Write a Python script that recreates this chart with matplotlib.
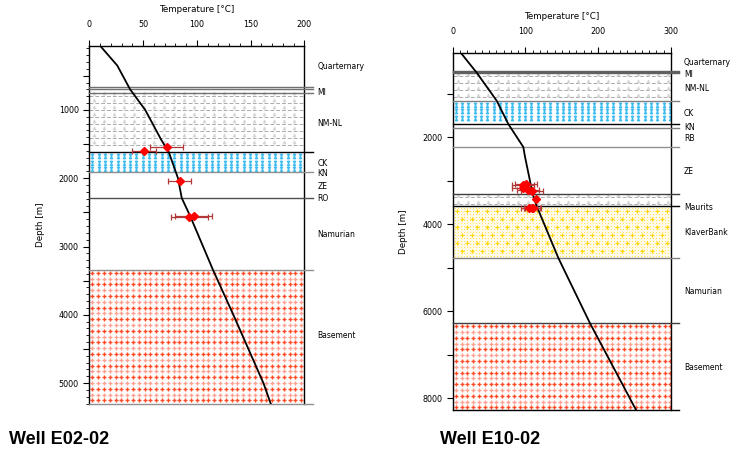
import numpy as np
import matplotlib
matplotlib.use('Agg')
import matplotlib.pyplot as plt
from matplotlib.ticker import MultipleLocator, FuncFormatter

# ---- Well E02-02 ----
curve02_depth = [60, 350, 700, 1000, 1440, 1620, 1910, 2000, 2290, 2560, 3340, 4000, 5000, 5310]
curve02_temp = [10, 26, 38, 52, 67, 74, 80.5, 82.5, 86, 94, 115, 134, 162, 169]
meas02_temp = [72, 51, 84, 93, 97]
meas02_depth = [1540, 1600, 2040, 2570, 2555]
meas02_err = [15.5, 11, 11, 17, 17]
names02 = ['Quarternary', 'MI', 'NM-NL', 'CK', 'KN', 'ZE', 'RO', 'Namurian', 'Basement']
label_depth02 = [368, 740, 1194, 1780, 1927, 2115, 2295, 2820, 4310]
bounds02 = [660, 700, 750, 1620, 1910, 2290, 3340, 5310]
bcol02 = ['#707070', '#707070', '#707070', 'k', '#909090', '#505050', '#909090', '#909090']
fills02 = [('nmnl', 750, 1620), ('ck', 1620, 1910), ('base', 3340, 5310)]

# ---- Well E10-02 ----
curve10_depth = [55, 515, 1160, 1694, 2223, 2450, 3310, 3580, 4768, 5280, 6276, 8270]
curve10_temp = [11, 33, 60.5, 76.4, 97, 99.4, 110, 115.4, 145, 159.8, 188.7, 252]
meas10_temp = [97, 100.7, 97, 103.5, 108.6, 114, 108.6, 105.3, 111]
meas10_depth = [3097, 3074, 3172, 3211, 3234, 3418, 3632, 3632, 3625]
meas10_err = [15, 15, 15, 15, 15, 0, 11, 11, 11]
names10 = ['Quarternary', 'MI', 'NM-NL', 'CK', 'KN', 'RB', 'ZE', 'Maurits', 'KlaverBank', 'Namurian', 'Basement']
label_depth10 = [285, 545, 867, 1448, 1770, 2023, 2791, 3609, 4193, 5549, 7297]
bounds10 = [475, 500, 525, 1160, 1694, 1790, 2223, 3310, 3580, 4768, 6276, 8270]
bcol10 = ['#606060', '#606060', '#606060', '#808080', 'k', '#808080', '#909090', '#404040', 'k', '#808080', '#404040', 'k']
fills10 = [('nmnl', 525, 1160), ('ck', 1160, 1694), ('nmnl', 3310, 3580),
           ('klaver', 3580, 4768), ('base', 6276, 8270)]

W, H = 733, 454
fig = plt.figure(figsize=(W / 100, H / 100), dpi=100)


def pattern(ax, kind, top, bot, xmax, ppx, ppy):
    # ppx / ppy = data units per pixel
    if kind == 'nmnl':
        ys = np.arange(top + 3 * ppy, bot - ppy, 7 * ppy)
        for y in ys:
            ax.plot([0, xmax], [y, y], color='#ababab', lw=0.7, ls=(0, (4, 2)), zorder=1)
        xs = np.arange(5 * ppx, xmax, 10 * ppx)
        X, Y = np.meshgrid(xs, ys - 2.5 * ppy)
        ax.plot(X.ravel(), Y.ravel(), ls='none', marker='$\\perp$', ms=1.8,
                color='#d5d5d5', zorder=1)
    elif kind == 'ck':
        ys = np.arange(top + 4 * ppy, bot - 2 * ppy, 6.5 * ppy)
        xs = np.arange(3 * ppx, xmax, 6.3 * ppx)
        X, Y = np.meshgrid(xs, ys)
        ax.plot(X.ravel(), Y.ravel(), ls='none', marker='$\\mathtt{I}$', ms=3,
                color='#3cbcf0', zorder=1)
    elif kind == 'base':
        ys = np.arange(top + 3 * ppy, bot - ppy, 5.8 * ppy)
        xs = np.arange(3 * ppx, xmax, 5.8 * ppx)
        for i, y in enumerate(ys):
            c = '#ff4a26' if i % 2 == 0 else '#ffa090'
            ax.plot(xs, np.full_like(xs, y), ls='none', marker='+', ms=3.2, mew=1.0,
                    color=c, zorder=1)
    elif kind == 'klaver':
        ax.fill_between([0, xmax], top, bot, color='#fffbe8', lw=0, zorder=0)
        ys = np.arange(top + 2 * ppy, bot, 3 * ppy)
        xs = np.arange(2 * ppx, xmax, 3 * ppx)
        X, Y = np.meshgrid(xs, ys)
        ax.plot(X.ravel(), Y.ravel(), ls='none', marker='o', ms=0.7, mew=0,
                color='#ffe14d', zorder=1)
        ys = np.arange(top + 5 * ppy, bot - 2 * ppy, 8 * ppy)
        for i, y in enumerate(ys):
            xs = np.arange((4 + 5 * (i % 2)) * ppx, xmax, 10 * ppx)
            ax.plot(xs, np.full_like(xs, y), ls='none', marker='+', ms=3, mew=0.8,
                    color='#ffd400', zorder=1)


def draw_well(rect, xmax, xmajor, ylim, ymaj, ylab_step, ymin,
              c_temp, c_depth, m_temp, m_depth, m_err,
              names, label_depth, bounds, bcol, fills, label_x, line_x, title, title_x):
    ax = fig.add_axes(rect)
    ax.set_xlim(0, xmax)
    ax.set_ylim(*ylim)
    ppx = xmax / (rect[2] * W)
    ppy = (ylim[0] - ylim[1]) / (rect[3] * H)

    for kind, top, bot in fills:
        pattern(ax, kind, top, bot, xmax, ppx, ppy)

    for d, c in zip(bounds, bcol):
        ax.plot([0, line_x], [d, d], color=c, lw=1.0, clip_on=False, zorder=3)

    ax.plot(c_temp, c_depth, color='k', lw=1.3, zorder=4)
    ax.errorbar(m_temp, m_depth, xerr=m_err, fmt='D', ms=4.5, color='#ff0000',
                ecolor='#b03a3a', elinewidth=0.9, capsize=2, capthick=0.9, zorder=5)

    for name, d in zip(names, label_depth):
        ax.text(label_x, d, name, fontsize=5.5, va='center', ha='left', clip_on=False)

    ax.xaxis.tick_top()
    ax.xaxis.set_label_position('top')
    ax.xaxis.set_major_locator(MultipleLocator(xmajor))
    ax.xaxis.set_minor_locator(MultipleLocator(10))
    ax.yaxis.set_major_locator(MultipleLocator(ymaj))
    ax.yaxis.set_minor_locator(MultipleLocator(ymin))
    ax.yaxis.set_major_formatter(FuncFormatter(
        lambda v, p: '%d' % v if v % ylab_step == 0 else ''))
    ax.tick_params(axis='both', which='major', direction='out', length=4.5, width=0.8,
                   labelsize=5.8, pad=3)
    ax.tick_params(axis='both', which='minor', direction='out', length=2, width=0.6)
    ax.tick_params(axis='x', which='major', pad=7.5)
    ax.set_xlabel('Temperature [°C]', fontsize=6.3, labelpad=5.5)
    ax.set_ylabel('Depth [m]', fontsize=6.3, labelpad=10)
    ax.spines['bottom'].set_visible(False)
    for s in ['left', 'right', 'top']:
        ax.spines[s].set_linewidth(1.0)
    fig.text(title_x / W, 1 - 440 / H, title, fontsize=13, fontweight='bold',
             family='Liberation Sans', va='center', ha='left')
    return ax


draw_well([89.3 / W, 1 - 404.3 / H, 215 / W, 358.6 / H], 200, 50, (5310, 60), 500, 1000, 100,
          curve02_temp, curve02_depth, meas02_temp, meas02_depth, meas02_err,
          names02, label_depth02, bounds02, bcol02, fills02, 212.5, 207.8, 'Well E02-02', 9)

draw_well([452.7 / W, 1 - 410 / H, 218.3 / W, 357.3 / H], 300, 100, (8270, 55), 1000, 2000, 1000,
          curve10_temp, curve10_depth, meas10_temp, meas10_depth, meas10_err,
          names10, label_depth10, bounds10, bcol10, fills10, 318, 311, 'Well E10-02', 440)

fig.savefig('out.png', dpi=100)
